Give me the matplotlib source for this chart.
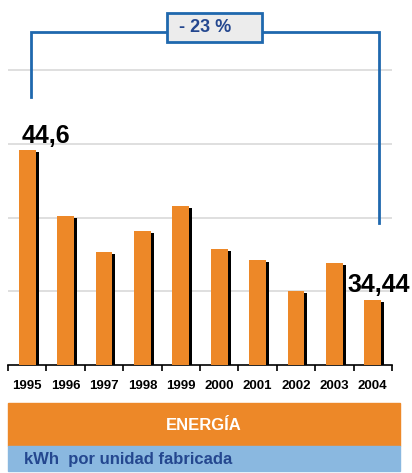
import numpy as np
import matplotlib; matplotlib.use('Agg')
import matplotlib.pyplot as plt
import matplotlib.transforms as mtransforms
from matplotlib.patches import Rectangle
plt.rcParams['font.family'] = ['Liberation Sans', 'DejaVu Sans']

years = ['1995', '1996', '1997', '1998', '1999', '2000', '2001', '2002', '2003', '2004']
kwh = [44.6, 40.1, 37.7, 39.1, 40.8, 37.9, 37.1, 35.0, 36.9, 34.44]
first_label = '44,6'
last_label = '34,44'
change_label = '- 23 %'
title = 'ENERGÍA'
unit = 'kWh  por unidad fabricada'

ORANGE = '#ED8828'; BLUE = '#1F68AE'; DBLUE = '#24478F'; LBLUE = '#8AB8E0'

W, H = 412, 473
fig = plt.figure(figsize=(W/100, H/100), dpi=100)
# axes: x 8..392 px, baseline at y=365 px, value 30 -> 52.5
ymin, ymax = 30, 52.5
pxu = 73.7/5
ax = fig.add_axes([8/W, (H-365)/H, 384/W, (ymax-ymin)*pxu/H])
x = np.arange(len(years))
shadow = mtransforms.offset_copy(ax.transData, fig=fig, x=3, y=-2, units='dots')
ax.bar(x, kwh, width=0.44, color='black', transform=shadow, zorder=2)
ax.bar(x, kwh, width=0.44, color=ORANGE, zorder=3)
ax.set_xlim(-0.5, len(years)-0.5)
ax.set_ylim(ymin, ymax)
for s in ['top', 'right', 'left']:
    ax.spines[s].set_visible(False)
ax.spines['bottom'].set_linewidth(1.2)
ax.set_yticks([35, 40, 45, 50])
ax.tick_params(axis='y', left=False, labelleft=False)
ax.yaxis.grid(True, color='#d9d9d9', lw=1.2)
ax.set_axisbelow(True)
ax.set_xticks(x)
ax.set_xticklabels(years, fontsize=9.5, fontweight='bold')
ax.set_xticks(np.arange(len(years)+1)-0.5, minor=True)
ax.tick_params(axis='x', which='major', length=0, pad=11)
ax.tick_params(axis='x', which='minor', length=4, width=1.2, color='black', direction='out')

ax.text(-0.14, 45.03, first_label, fontsize=18, fontweight='bold', ha='left', va='baseline')
ax.text(8.35, 34.94, last_label, fontsize=18, fontweight='bold', ha='left', va='baseline', clip_on=False)

# bracket
bx = [0.1, 0.1, 9.16, 9.16]
by = [48.2, 52.6, 52.6, 39.6]
ax.plot(bx, by, color=BLUE, lw=2, clip_on=False, zorder=5, solid_joinstyle='miter')
fig.patches.append(Rectangle((167/W, (H-42)/H), 95/W, 29/H, transform=fig.transFigure,
                             fc='#ececec', ec=BLUE, lw=2, zorder=6))
fig.text(205.5/W, (H-28)/H, change_label, fontsize=13, fontweight='bold', color=DBLUE,
         ha='center', va='center', zorder=7)

# bottom bands
fig.patches.append(Rectangle((8/W, (H-446)/H), 392/W, 43/H, transform=fig.transFigure, color=ORANGE, zorder=0))
fig.patches.append(Rectangle((8/W, (H-471)/H), 392/W, 25/H, transform=fig.transFigure, color=LBLUE, zorder=0))
fig.text(204/W, (H-425)/H, title, color='white', fontsize=12, fontweight='bold', ha='center', va='center')
fig.text(24/W, (H-459)/H, unit, color=DBLUE, fontsize=12, fontweight='bold', ha='left', va='center')

fig.savefig('out.png', dpi=100)
